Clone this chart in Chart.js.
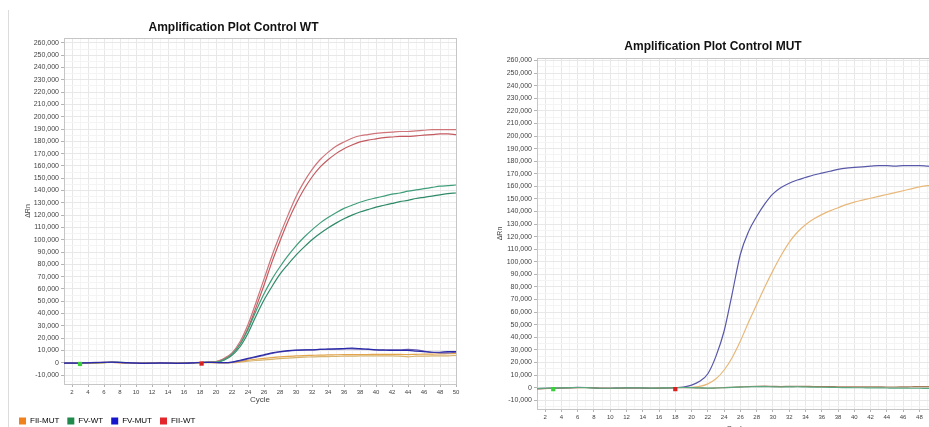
<!DOCTYPE html>
<html>
<head>
<meta charset="utf-8">
<title>Amplification Plots</title>
<script src="https://cdn.jsdelivr.net/npm/chart.js@4.4.1/dist/chart.umd.min.js"></script>
<style>
  html, body { margin: 0; padding: 0; background: #fff; }
  body { width: 929px; height: 427px; overflow: hidden; position: relative; }
  .edge { position: absolute; left: 8px; top: 10px; width: 0; height: 417px; border-left: 1px solid #dcdcdc; }
  #wtChart  { position: absolute; left: 0;     top: 0; }
  #mutChart { position: absolute; left: 470px; top: 0; }
</style>
</head>
<body>
<div class="edge"></div>
<canvas id="wtChart" width="470" height="435"></canvas>
<canvas id="mutChart" width="471" height="434"></canvas>

<script>
/* ── Data (ΔRn in thousands, one value per cycle) ─────── */
const CYCLES = [1,2,3,4,5,6,7,8,9,10,11,12,13,14,15,16,17,18,19,20,21,22,23,24,25,
                26,27,28,29,30,31,32,33,34,35,36,37,38,39,40,41,42,43,44,45,46,47,48,49,50];
const X_TICKS = [2,4,6,8,10,12,14,16,18,20,22,24,26,28,30,32,34,36,38,40,42,44,46,48,50];
const Y_TICKS = [-10000,0,10000,20000,30000,40000,50000,60000,70000,80000,90000,100000,110000,
                 120000,130000,140000,150000,160000,170000,180000,190000,200000,210000,220000,
                 230000,240000,250000,260000];

const LEGEND_NAMES  = ['FII-MUT', 'FV-WT', 'FV-MUT', 'FII-WT'];
const LEGEND_COLORS = ['#f0821e', '#1f8a4c', '#1616cc', '#e3262c'];

// Control WT plate
const WT_FII_WT_1 = [-0.6,-0.4,-0.3,-0.2,0.1,0.3,0.2,0,-0.2,-0.4,-0.3,-0.1,0,-0.2,-0.4,-0.3,0,0.3,0.5,
  1,3.5,8,17,31,49,68,87,104,120,135,147,157,165,171,176,179.5,182.5,184.5,185.5,
  186.5,187,187.5,188,188,188.5,189,189.5,189.5,189.5,189.5];
const WT_FII_WT_2 = [-0.5,-0.5,-0.2,-0.1,0,0.2,0.3,0.1,-0.1,-0.3,-0.4,-0.2,-0.1,-0.3,-0.3,-0.2,0.1,0.2,0.4,
  0.8,3,7,15,28,45,63,82,99,115,129,141,151,159,165,170,174,177,179.5,181,
  182,183,183.5,184,184,184.5,185,185.5,186,186,185.5];
const WT_FV_WT_1 = [-0.4,-0.3,-0.4,-0.2,0,0.2,0.4,0.2,0,-0.3,-0.5,-0.3,-0.1,-0.2,-0.3,-0.4,-0.1,0.2,0.3,
  0.5,2.5,7,15,27,42,56,68,78,87,95,102,108,113.5,118,122,125.5,128,130.5,132.5,
  134,135.5,137,138,139.5,140.5,141.5,142.5,143.5,144,144.5];
const WT_FV_WT_2 = [-0.5,-0.4,-0.3,-0.3,-0.1,0.1,0.3,0.3,0.1,-0.2,-0.4,-0.4,-0.2,-0.1,-0.3,-0.3,-0.2,0.1,0.2,
  0.3,2,6,13,24,38,51,62,72,80,87.5,94,100,105,109.5,113.5,117,120,122.5,124.5,
  126.5,128,129.5,131,132,133.5,134.5,135.5,136.5,137.5,138];
const WT_FV_MUT_1 = [-0.3,-0.4,-0.2,-0.1,0.1,0.3,0.5,0.3,0,-0.3,-0.5,-0.4,-0.2,-0.3,-0.5,-0.4,-0.2,0.2,0.3,
  0.2,0,0.5,2,3.5,5,6.5,8,9,9.8,10.3,10.5,10.5,10.8,11,11.2,11.5,11.8,11.5,11,
  10.5,10.2,10,10,10,9.5,9,8.5,8.5,9,9];
const WT_FV_MUT_2 = [-0.4,-0.2,-0.3,0,0.2,0.2,0.4,0.2,-0.1,-0.2,-0.4,-0.3,-0.3,-0.2,-0.4,-0.5,-0.1,0.1,0.4,
  0.1,0,0.3,1.5,3,4.5,6,7.5,8.8,9.5,10,10.3,10.5,10.8,11,11,11.2,11.2,11,10.8,
  10.5,10.5,10.5,10.5,10.8,10.5,9.5,8.5,8,8,8.5];
const WT_FII_MUT_1 = [-0.5,-0.3,-0.3,-0.2,0,0.1,0.3,0.1,-0.1,-0.3,-0.3,-0.2,-0.2,-0.2,-0.3,-0.3,-0.1,0.1,0.2,
  0.1,0,0.2,1,2,2.8,3.5,4.2,4.8,5.2,5.5,5.8,6,6.2,6.3,6.5,6.6,6.6,6.7,6.7,
  6.8,6.8,6.8,6.8,6.6,6.8,7,7,7.2,7.3,7.5];
const WT_FII_MUT_2 = [-0.6,-0.4,-0.2,-0.2,-0.1,0.1,0.2,0.1,-0.1,-0.2,-0.4,-0.3,-0.1,-0.2,-0.2,-0.3,-0.2,0,0.1,
  0,-0.1,0,0.5,1.2,1.8,2.3,2.8,3.3,3.8,4.2,4.5,4.7,4.9,5,5.2,5.3,5.4,5.5,5.5,
  5.5,5.5,5.5,5.4,4.8,5.3,5.4,5.5,5.5,5.6,6];

// Control MUT plate
const MUT_FV_MUT = [-0.8,-0.6,-0.5,-0.3,-0.1,0.2,0.1,-0.3,-0.6,-0.6,-0.4,-0.2,-0.2,-0.4,-0.6,-0.5,-0.3,0,0.5,
  2,5,11,25,45,75,106,124,136,146,154,159,162.5,165,167,169,170.5,172,173.5,174.5,
  175,175.5,176,176.5,176.5,176,176.5,176.5,176.5,176,175.5];
const MUT_FII_MUT = [-1,-0.8,-0.6,-0.4,-0.2,0,0,-0.2,-0.4,-0.5,-0.4,-0.3,-0.2,-0.3,-0.5,-0.4,-0.2,0,0.2,
  0.3,1,3,7,14,24,37,52,66,80,93,105,115.5,123.5,129.5,134,137.5,140.5,143,145.5,
  147.5,149,150.5,152,153.5,155,156.5,158,159.5,160.5,161];
const MUT_FII_WT = [-0.9,-0.7,-0.5,-0.3,-0.2,0,0.1,-0.2,-0.5,-0.6,-0.5,-0.3,-0.2,-0.3,-0.5,-0.4,-0.3,-0.1,0,
  0,-0.3,-0.5,-0.3,0,0.3,0.6,0.9,1.1,1.2,1,0.8,1,1.1,1,0.9,0.8,0.8,0.7,0.7,
  0.6,0.6,0.7,0.6,0.5,0.5,0.6,0.7,0.8,0.8,0.9];
const MUT_FV_WT = [-0.7,-0.5,-0.4,-0.2,0,0.1,0,-0.3,-0.5,-0.5,-0.4,-0.2,-0.1,-0.2,-0.4,-0.3,-0.2,0,0.1,
  0,-0.2,-0.4,-0.3,-0.1,0.2,0.4,0.6,0.8,0.8,0.6,0.5,0.6,0.7,0.5,0.4,0.3,0.2,0.1,0,
  -0.1,-0.1,-0.2,-0.2,-0.3,-0.4,-0.4,-0.5,-0.5,-0.6,-0.6];

// Baseline start / end markers (cycle, ΔRn)
const WT_MARK_X  = [3, 18.2];
const WT_MARK_Y  = [-1000, -700];
const MUT_MARK_X = [3, 18];
const MUT_MARK_Y = [-1200, -1200];
const MARK_COLORS = ['#3ccf3c', '#d92020'];

/* ── Chart defaults ──────────────────────────────────── */
Chart.defaults.font.family = "'Liberation Sans', Arial, sans-serif";
Chart.defaults.color       = '#444';

/* ── Helpers ─────────────────────────────────────────── */
function toPoints(vals) {
    return vals.map((v, i) => ({ x: CYCLES[i], y: v * 1000 }));
}

function curve(vals, color) {
    return {
        data:                   toPoints(vals),
        borderColor:            color,
        backgroundColor:        color,
        borderWidth:            1.2,
        pointRadius:            0,
        tension:                0.4,
        cubicInterpolationMode: 'monotone',
        fill:                   false,
    };
}

function markers(xs, ys) {
    return {
        data:            xs.map((x, i) => ({ x, y: ys[i] })),
        showLine:        false,
        pointStyle:      'rect',
        pointRadius:     3,
        borderWidth:     0,
        backgroundColor: MARK_COLORS,
        borderColor:     MARK_COLORS,
    };
}

// grey frame round the plot area
const plotFrame = {
    id: 'plotFrame',
    beforeDatasetsDraw(chart) {
        const { ctx, chartArea: a } = chart;
        ctx.save();
        ctx.strokeStyle = '#c6c6c6';
        ctx.lineWidth   = 1;
        ctx.strokeRect(Math.round(a.left) + 0.5, Math.round(a.top) + 0.5,
                       Math.round(a.width), Math.round(a.height));
        ctx.restore();
    }
};

function scales(yMin, yMax, yWidth, yTitlePad, cycleBottomPad) {
    const yMinor = Y_TICKS.map(v => v - 5000).concat(Y_TICKS);
    return {
        x: {
            type: 'linear',
            min:  CYCLES[0],
            max:  CYCLES[CYCLES.length - 1],
            afterBuildTicks: s => { s.ticks = CYCLES.map(v => ({ value: v })); },
            afterFit:        s => { s.height = 25; },
            border: { display: false },
            grid: {
                color:      c => X_TICKS.includes(c.tick && c.tick.value) ? '#e8e8e8' : '#f4f4f4',
                tickColor:  c => X_TICKS.includes(c.tick && c.tick.value) ? '#b4b4b4' : 'rgba(0,0,0,0)',
                tickLength: 3,
            },
            ticks: {
                autoSkip: false, maxRotation: 0, padding: 2,
                color: '#444', font: { size: 6 },
                callback: v => X_TICKS.includes(v) ? String(v) : ''
            },
            title: {
                display: true, text: 'Cycle', color: '#444',
                font: { size: 8 }, padding: { top: 0, bottom: cycleBottomPad }
            }
        },
        y: {
            min: yMin,
            max: yMax,
            afterBuildTicks: s => {
                s.ticks = yMinor.filter(v => v >= yMin && v <= yMax)
                                .sort((a, b) => a - b)
                                .map(v => ({ value: v }));
            },
            afterFit: s => { s.width = yWidth; },
            border: { display: false },
            grid: {
                color:      c => Y_TICKS.includes(c.tick && c.tick.value) ? '#e8e8e8' : '#f4f4f4',
                tickColor:  c => Y_TICKS.includes(c.tick && c.tick.value) ? '#b4b4b4' : 'rgba(0,0,0,0)',
                tickLength: 3,
            },
            ticks: {
                autoSkip: false, padding: 2,
                color: '#444', font: { size: 7 },
                callback: v => Y_TICKS.includes(v) ? v.toLocaleString('en-US') : ''
            },
            title: {
                display: true, text: 'ΔRn', color: '#444',
                font: { size: 7 }, padding: { top: yTitlePad, bottom: 0 }
            }
        }
    };
}

/* ── Control WT ──────────────────────────────────────── */
new Chart(document.getElementById('wtChart'), {
    type: 'line',
    data: {
        datasets: [
            markers(WT_MARK_X, WT_MARK_Y),
            curve(WT_FV_MUT_1,  '#2a2aa8'),
            curve(WT_FV_MUT_2,  '#6a5eb2'),
            curve(WT_FII_MUT_1, '#e2a54c'),
            curve(WT_FII_MUT_2, '#d8b46e'),
            curve(WT_FV_WT_1,   '#3f9e7a'),
            curve(WT_FV_WT_2,   '#2f8a68'),
            curve(WT_FII_WT_1,  '#cf7479'),
            curve(WT_FII_WT_2,  '#c45a60'),
        ]
    },
    options: {
        responsive: false,
        animation:  false,
        layout: { padding: { left: 11, right: 14, top: 20.6, bottom: 0 } },
        plugins: {
            title: {
                display: true, text: 'Amplification Plot Control WT', color: '#111',
                font: { size: 12, weight: 'bold' }, padding: { top: 0, bottom: 3 }
            },
            legend: {
                position: 'bottom',
                align:    'start',
                labels: {
                    boxWidth: 7, boxHeight: 7, padding: 8,
                    color: '#555', font: { size: 8 },
                    generateLabels: () => LEGEND_NAMES.map((t, i) => ({
                        text: t, fillStyle: LEGEND_COLORS[i], strokeStyle: LEGEND_COLORS[i],
                        lineWidth: 0, hidden: false, datasetIndex: i
                    }))
                }
            },
            tooltip: { enabled: false }
        },
        scales: scales(-17300, 264000, 53, 13, 4)
    },
    plugins: [plotFrame]
});

/* ── Control MUT ─────────────────────────────────────── */
new Chart(document.getElementById('mutChart'), {
    type: 'line',
    data: {
        datasets: [
            markers(MUT_MARK_X, MUT_MARK_Y),
            curve(MUT_FV_WT,   '#5aa880'),
            curve(MUT_FII_WT,  '#a87a58'),
            curve(MUT_FV_MUT,  '#5858a8'),
            curve(MUT_FII_MUT, '#e8b87a'),
        ]
    },
    options: {
        responsive: false,
        animation:  false,
        layout: { padding: { left: 20, right: 5, top: 39.6, bottom: 0 } },
        plugins: {
            title: {
                display: true, text: 'Amplification Plot Control MUT', color: '#111',
                font: { size: 12, weight: 'bold' }, padding: { top: 0, bottom: 4 }
            },
            legend:  { display: false },
            tooltip: { enabled: false }
        },
        scales: scales(-17000, 262000, 47, 6, 0)
    },
    plugins: [plotFrame]
});
</script>
</body>
</html>
